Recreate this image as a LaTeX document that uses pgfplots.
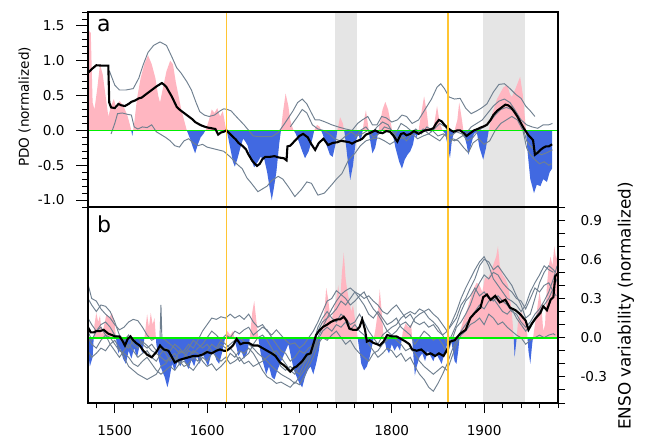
\documentclass[border=0pt]{standalone}
\usepackage{pgfplots}
\usepackage{pgfplotstable}
\pgfplotsset{compat=1.18}
\usepackage{fontspec}
\setmainfont{DejaVu Sans}
\definecolor{pinkf}{HTML}{FFB6C1}
\definecolor{bluef}{HTML}{4169E1}
\definecolor{grayl}{HTML}{708090}
\definecolor{bandc}{HTML}{E5E5E5}
\definecolor{orangel}{HTML}{FFC533}
\definecolor{greenl}{HTML}{00F000}
\pgfplotsset{
  common/.style={scale only axis, width=470bp, xmin=1471, xmax=1980,
    tick align=outside, axis line style={line width=1.2bp},
    tick style={line width=0.9bp, black},
    ticklabel style={font=\fontsize{13.6bp}{16bp}\selectfont}},
  bare/.style={scale only axis, width=470bp, xmin=1471, xmax=1980, hide axis, clip=true},
  gl/.style={grayl, line width=0.95bp},
  bl/.style={black, line width=2.1bp},
  bandone/.style={bandc, line width=21.7bp},
  bandtwo/.style={bandc, line width=41.55bp},
  ol/.style={orangel, line width=1.9bp},
  grl/.style={greenl, line width=1.7bp},
}
\pgfplotstableread{
x y
1471 0
1471 1.45
1474 1.40
1476 0.40
1478 0.30
1481 0.60
1484 0.95
1487 0.80
1490 0.50
1493 0.20
1496 0.35
1499 0.45
1502 0.30
1505 0.42
1508 0.38
1511 0.30
1514 0.20
1517 0.05
1519 -0.08
1521 0.10
1524 0.45
1528 0.75
1532 0.95
1536 1.08
1540 0.95
1544 0.75
1547 0.50
1549 0.40
1552 0.60
1556 0.85
1560 1.00
1563 0.95
1566 0.70
1569 0.50
1572 0.30
1575 0.15
1578 0.00
1581 -0.10
1584 -0.22
1587 -0.33
1590 -0.20
1593 -0.10
1596 -0.05
1599 0.02
1602 0.15
1605 0.30
1608 0.25
1611 0.32
1614 0.20
1617 0.28
1620 0.05
1622 -0.05
1625 -0.25
1628 -0.45
1630 -0.52
1633 -0.40
1636 -0.25
1639 -0.12
1641 -0.15
1644 -0.22
1647 -0.40
1651 -0.53
1655 -0.45
1658 -0.38
1662 -0.42
1665 -0.60
1668 -0.85
1670 -1.00
1672 -0.85
1675 -0.60
1678 -0.20
1680 0.00
1682 0.25
1685 0.53
1688 0.35
1690 0.15
1693 0.02
1696 -0.05
1699 -0.15
1703 -0.30
1706 -0.40
1710 -0.30
1714 -0.12
1716 0.00
1719 0.08
1722 0.05
1725 -0.05
1729 -0.20
1733 -0.35
1736 -0.38
1739 -0.20
1741 0.00
1744 0.19
1747 0.10
1749 -0.05
1752 -0.40
1755 -0.71
1758 -0.50
1761 -0.15
1764 -0.05
1766 -0.16
1768 -0.05
1770 0.15
1772 0.29
1774 0.10
1776 -0.10
1779 -0.33
1782 -0.25
1785 -0.05
1787 0.10
1790 0.30
1793 0.41
1796 0.30
1799 0.10
1801 -0.05
1804 -0.25
1808 -0.45
1811 -0.55
1814 -0.42
1817 -0.35
1820 -0.30
1823 -0.20
1825 -0.05
1827 -0.10
1829 0.00
1832 0.25
1835 0.49
1838 0.25
1840 0.02
1843 -0.03
1846 0.10
1849 0.35
1852 0.10
1855 0.00
1858 -0.05
1861 -0.25
1863 -0.40
1865 -0.15
1868 0.00
1871 0.15
1873 0.40
1876 0.15
1878 -0.05
1881 -0.20
1883 -0.35
1886 -0.20
1889 -0.05
1892 -0.02
1895 -0.25
1899 -0.42
1902 -0.25
1905 0.00
1909 0.25
1914 0.45
1918 0.55
1921 0.62
1925 0.65
1928 0.52
1930 0.48
1934 0.60
1939 0.77
1942 0.50
1945 0.05
1947 -0.30
1950 -0.70
1954 -0.90
1957 -0.78
1961 -0.80
1964 -0.70
1968 -0.74
1971 -0.60
1973.5 -0.55
1973.5 0
}\fillA
\pgfplotstableread{
x y
1471 0
1471 -0.10
1473 -0.22
1476 -0.15
1478 0.10
1480 0.19
1482 0.12
1484 0.17
1486 0.02
1488 0.08
1491 0.18
1494 0.15
1497 0.19
1500 0.10
1502 -0.05
1504 -0.12
1506 -0.08
1509 -0.16
1512 -0.20
1515 -0.10
1518 -0.16
1521 -0.08
1524 -0.15
1527 -0.06
1530 -0.12
1533 0.05
1535 0.18
1537 0.08
1539 0.19
1541 0.10
1543 0.15
1545 -0.05
1548 -0.18
1551 -0.25
1554 -0.30
1557 -0.38
1559 -0.32
1562 -0.20
1565 -0.25
1568 -0.18
1571 -0.22
1574 -0.15
1577 -0.20
1580 -0.24
1583 -0.17
1586 -0.22
1589 -0.14
1592 -0.20
1595 -0.12
1598 -0.17
1601 -0.22
1604 -0.14
1607 -0.10
1610 -0.17
1613 -0.20
1616 -0.12
1619 -0.02
1622 0.05
1625 0.02
1628 0.05
1631 -0.05
1634 -0.14
1637 -0.10
1640 -0.16
1643 -0.12
1646 -0.02
1649 0.20
1651 0.28
1653 0.15
1655 0.02
1658 -0.12
1661 -0.20
1664 -0.28
1667 -0.22
1670 -0.30
1673 -0.32
1676 -0.25
1679 -0.20
1682 -0.15
1685 -0.10
1688 -0.05
1691 -0.15
1694 -0.25
1697 -0.30
1700 -0.35
1703 -0.38
1706 -0.30
1709 -0.25
1712 -0.22
1715 -0.28
1718 -0.20
1721 -0.10
1724 0.05
1727 0.20
1729 0.38
1731 0.30
1734 0.12
1737 0.20
1740 0.30
1742 0.40
1744 0.28
1746 0.50
1748 0.65
1750 0.45
1752 0.35
1754 0.28
1756 0.20
1758 0.25
1760 0.15
1762 0.05
1764 -0.05
1767 -0.20
1770 -0.25
1773 -0.22
1776 -0.15
1779 -0.05
1782 0.05
1785 0.20
1787 0.37
1789 0.20
1791 0.02
1794 -0.08
1797 -0.12
1800 -0.05
1803 -0.10
1806 -0.06
1809 -0.10
1812 0.05
1815 0.11
1818 0.08
1821 0.10
1823 -0.10
1825 -0.29
1827 -0.22
1830 -0.15
1833 -0.12
1836 -0.18
1839 -0.10
1842 -0.14
1845 -0.18
1848 -0.12
1851 -0.16
1854 -0.20
1857 -0.12
1860 -0.05
1862 0.02
1865 -0.05
1868 -0.18
1870 -0.20
1872 -0.10
1874 0.05
1877 0.12
1880 0.18
1883 0.25
1886 0.32
1889 0.38
1892 0.42
1895 0.40
1898 0.35
1901 0.46
1904 0.45
1907 0.50
1910 0.56
1913 0.62
1915 0.70
1917 0.55
1920 0.48
1923 0.45
1926 0.40
1928 0.30
1930 0.20
1932 0.00
1933 -0.15
1935 -0.02
1937 0.15
1940 0.20
1943 0.15
1946 0.10
1948 -0.10
1950 -0.20
1952 -0.05
1954 0.05
1957 0.20
1960 0.35
1962 0.25
1964 0.05
1966 0.10
1968 0.40
1970 0.55
1972 0.62
1974 0.55
1976 0.70
1978 0.60
1979.5 0.65
1979.5 0
}\fillB
\begin{document}
\begin{tikzpicture}
\path[use as bounding box] (0,0) rectangle (645bp,439bp);
% ================= panel a =================
\begin{axis}[bare, at={(88bp,232bp)}, anchor=south west, height=195bp, ymin=-1.1, ymax=1.7]
\addplot[bandone] coordinates {(1750.25,-1.1) (1750.25,1.7)};
\addplot[bandtwo] coordinates {(1921.5,-1.1) (1921.5,1.7)};
\end{axis}
\begin{axis}[bare, at={(88bp,308.607bp)}, anchor=south west, height=118.393bp, ymin=0, ymax=1.7]
\addplot[fill=pinkf, draw=none] table[x=x,y=y] {\fillA} \closedcycle;
\end{axis}
\begin{axis}[bare, at={(88bp,232bp)}, anchor=south west, height=76.607bp, ymin=-1.1, ymax=0]
\addplot[fill=bluef, draw=none] table[x=x,y=y] {\fillA} \closedcycle;
\end{axis}
\begin{axis}[common, at={(88bp,232bp)}, anchor=south west, height=195bp,
  ymin=-1.1, ymax=1.7, xtick=\empty, axis on top,
  ytick={-1,-0.5,0,0.5,1,1.5}, yticklabels={-1.0,-0.5,0.0,0.5,1.0,1.5},
  minor ytick={-1.1,-1.0,...,1.7}, ytick pos=left,
  yticklabel style={xshift=-8bp},
  major tick length=12bp, minor tick length=6bp]
\addplot[gl] table {
1494 0.86
1500 0.65
1505 0.58
1512 0.58
1520 0.60
1526 0.75
1531 0.95
1536 1.12
1542 1.22
1549 1.27
1556 1.22
1562 1.05
1567 0.90
1572 0.82
1578 0.70
1583 0.58
1588 0.40
1592 0.27
1597 0.22
1602 0.20
1608 0.22
1614 0.28
1618 0.31
1622 0.30
1626 0.28
1630 0.22
1635 0.15
1640 0.08
1645 0.00
1650 -0.08
1656 -0.09
1662 -0.09
1670 -0.09
1677 -0.03
1683 0.08
1688 0.18
1693 0.28
1698 0.40
1703 0.45
1708 0.38
1713 0.25
1717 0.15
1722 0.15
1728 0.12
1735 0.08
1742 0.05
1750 0.02
1757 0.00
1763 0.10
1768 0.15
1774 0.20
1779 0.08
1784 0.08
1789 0.20
1794 0.18
1800 0.12
1806 0.15
1811 0.22
1816 0.20
1822 0.10
1829 0.15
1836 0.30
1843 0.45
1849 0.62
1853 0.67
1857 0.60
1862 0.48
1868 0.45
1874 0.46
1880 0.32
1886 0.24
1892 0.28
1897 0.32
1903 0.38
1910 0.55
1916 0.66
1922 0.67
1928 0.60
1934 0.52
1940 0.46
1945 0.35
1950 0.28
1955 0.20
};
\addplot[gl] table {
1496 -0.05
1500 0.10
1503 0.24
1508 0.25
1514 0.23
1518 0.22
1521 0.05
1525 0.02
1530 0.05
1535 0.04
1540 0.08
1545 -0.02
1550 -0.06
1555 -0.10
1560 -0.15
1565 -0.22
1570 -0.24
1575 -0.15
1580 -0.12
1585 -0.18
1590 -0.22
1595 -0.20
1600 -0.24
1606 -0.26
1612 -0.28
1618 -0.30
1625 -0.38
1632 -0.48
1638 -0.55
1643 -0.68
1648 -0.76
1655 -0.88
1660 -0.84
1665 -0.80
1670 -0.72
1677 -0.66
1682 -0.70
1688 -0.81
1695 -0.95
1702 -0.85
1708 -0.74
1713 -0.76
1720 -0.93
1727 -0.90
1735 -0.78
1740 -0.70
1746 -0.62
1753 -0.43
1760 -0.33
1766 -0.22
1772 -0.15
1779 -0.12
1786 -0.11
1792 -0.15
1798 -0.20
1804 -0.15
1810 -0.08
1816 -0.15
1822 -0.05
1828 -0.12
1834 -0.08
1840 -0.05
1846 -0.10
1852 -0.15
1858 -0.05
1862 -0.20
1866 -0.12
1872 -0.15
1878 -0.25
1883 -0.32
1888 -0.18
1894 -0.12
1900 -0.20
1906 -0.15
1912 0.00
1918 0.10
1924 0.15
1930 0.20
1936 0.15
1942 0.00
1946 -0.25
1950 -0.35
1955 -0.42
1960 -0.48
1965 -0.45
1970 -0.50
1973 -0.48
};
\addplot[gl] table {
1690 0.05
1697 0.18
1703 0.30
1708 0.25
1714 0.08
1720 0.02
1726 0.00
1732 -0.05
1738 -0.12
1744 -0.15
1750 -0.08
1756 -0.02
1762 -0.08
1768 -0.05
1774 0.00
1780 -0.10
1786 -0.05
1792 0.05
1798 0.02
1804 -0.05
1810 0.10
1816 0.05
1822 -0.02
1828 -0.05
1834 0.02
1840 -0.05
1846 0.02
1852 0.10
1858 0.05
1864 -0.08
1870 -0.02
1876 -0.05
1882 -0.15
1888 -0.10
1894 0.00
1900 0.05
1906 0.12
1912 0.22
1918 0.30
1924 0.33
1930 0.30
1936 0.22
1942 0.05
1946 -0.15
1950 -0.22
1956 -0.30
1962 -0.35
1968 -0.32
1974 -0.28
};
\addplot[gl] table {
1760 -0.10
1766 0.00
1772 0.05
1778 -0.05
1784 0.05
1790 0.12
1796 0.08
1802 -0.05
1808 -0.12
1814 -0.10
1820 -0.05
1826 0.02
1832 -0.05
1838 0.05
1844 0.00
1850 -0.08
1856 -0.05
1862 -0.12
1868 -0.15
1874 -0.10
1880 -0.05
1886 0.05
1892 0.10
1898 0.15
1904 0.25
1910 0.35
1916 0.42
1922 0.45
1928 0.40
1934 0.28
1940 0.15
1946 0.08
1952 0.05
1958 0.03
1964 0.08
1970 0.08
1974 0.10
};
\addplot[grl] coordinates {(1471,0) (1980,0)};
\addplot[bl] table {
1470.6 0.82
1475 0.88
1480 0.935
1486 0.93
1493 0.93
1494 0.40
1496 0.33
1500 0.32
1504 0.38
1507 0.36
1511 0.35
1515 0.38
1518 0.41
1522 0.43
1526 0.46
1529 0.47
1533 0.51
1537 0.55
1540 0.58
1545 0.63
1551 0.68
1553 0.66
1556 0.62
1559 0.55
1562 0.48
1567 0.34
1570 0.30
1573 0.27
1576 0.24
1580 0.20
1584 0.16
1587 0.12
1591 0.09
1594 0.07
1598 0.05
1601 0.04
1605 0.03
1609 0.02
1612 -0.06
1615 -0.03
1618 -0.02
1621 0.00
1624 -0.04
1627 -0.08
1631 -0.13
1634 -0.18
1639 -0.23
1642 -0.27
1645 -0.35
1649 -0.44
1654 -0.51
1657 -0.48
1660 -0.41
1663 -0.38
1668 -0.38
1673 -0.37
1678 -0.39
1683 -0.40
1686 -0.43
1687 -0.23
1690 -0.22
1695 -0.15
1700 -0.08
1704 -0.05
1709 -0.10
1713 -0.20
1717 -0.28
1721 -0.18
1726 -0.12
1731 -0.21
1736 -0.18
1741 -0.17
1745 -0.15
1750 -0.16
1754 -0.17
1757 -0.19
1761 -0.16
1765 -0.14
1768 -0.12
1772 -0.06
1776 -0.04
1779 -0.02
1782 0.00
1786 -0.03
1790 -0.04
1794 -0.01
1798 -0.02
1802 -0.08
1806 -0.16
1810 -0.05
1813 -0.04
1816 -0.07
1820 -0.05
1824 -0.01
1829 -0.05
1833 -0.02
1836 0.00
1841 0.01
1845 0.03
1848 0.10
1851 0.15
1854 0.13
1857 0.08
1860 0.04
1864 0.00
1867 -0.02
1871 0.00
1874 0.00
1878 -0.04
1881 -0.08
1885 -0.04
1889 0.00
1893 0.02
1896 0.04
1900 0.06
1903 0.08
1907 0.15
1910 0.22
1914 0.28
1918 0.32
1923 0.37
1926 0.36
1929 0.33
1932 0.28
1936 0.20
1940 0.10
1943 0.03
1948 -0.07
1953 -0.14
1955 -0.35
1958 -0.32
1961 -0.28
1964 -0.25
1967 -0.23
1970 -0.23
1973.6 -0.20
};
\addplot[ol] coordinates {(1621,-1.1) (1621,1.7)};
\addplot[ol] coordinates {(1861,-1.1) (1861,1.7)};
\end{axis}
% ================= panel b =================
\begin{axis}[bare, at={(88bp,36bp)}, anchor=south west, height=196bp, ymin=-0.5, ymax=1.0]
\addplot[bandone] coordinates {(1750.25,-0.5) (1750.25,1.0)};
\addplot[bandtwo] coordinates {(1921.5,-0.5) (1921.5,1.0)};
\end{axis}
\begin{axis}[bare, at={(88bp,101.333bp)}, anchor=south west, height=130.667bp, ymin=0, ymax=1.0]
\addplot[fill=pinkf, draw=none] table[x=x,y=y] {\fillB} \closedcycle;
\end{axis}
\begin{axis}[bare, at={(88bp,36bp)}, anchor=south west, height=65.333bp, ymin=-0.5, ymax=0]
\addplot[fill=bluef, draw=none] table[x=x,y=y] {\fillB} \closedcycle;
\end{axis}
\begin{axis}[common, at={(88bp,36bp)}, anchor=south west, height=196bp,
  ymin=-0.5, ymax=1.0, axis on top,
  xtick={1500,1600,1700,1800,1900}, xticklabels={1500,1600,1700,1800,1900},
  minor xtick={1480,1500,...,1980},
  xtick pos=bottom, ytick=\empty,
  xticklabel style={yshift=-9bp},
  major tick length=10bp, minor tick length=5bp]
\addplot[gl] table {
1471 0.41
1475 0.30
1480 0.28
1485 0.22
1490 0.18
1495 0.15
1500 0.10
1505 0.06
1510 0.08
1515 0.12
1520 0.14
1525 0.13
1530 0.08
1535 0.02
1540 -0.02
1545 0.00
1549 0.00
1550 0.25
1551 0.00
1555 -0.02
1560 -0.05
1565 -0.08
1570 -0.12
1575 -0.10
1580 -0.05
1585 -0.08
1590 -0.02
1595 0.05
1600 0.10
1605 0.15
1610 0.14
1615 0.16
1620 0.15
1625 0.18
1630 0.15
1635 0.17
1640 0.14
1645 0.18
1650 0.12
1655 0.08
1660 0.10
1665 0.05
1670 0.02
1675 0.06
1680 0.02
1685 -0.02
1690 -0.05
1695 -0.04
1700 -0.08
1705 -0.05
1710 0.00
1715 0.05
1720 0.12
1725 0.20
1730 0.28
1735 0.30
1740 0.36
1745 0.33
1750 0.30
1755 0.25
1760 0.28
1765 0.32
1770 0.35
1775 0.28
1780 0.22
1785 0.18
1790 0.12
1795 0.05
1800 0.02
1805 0.05
1810 0.10
1815 0.12
1820 0.08
1825 0.15
1830 0.18
1835 0.20
1840 0.22
1845 0.18
1850 0.15
1855 0.10
1860 0.05
1865 0.10
1870 0.15
1875 0.25
1880 0.30
1885 0.38
1890 0.45
1895 0.55
1900 0.60
1905 0.58
1910 0.52
1915 0.55
1920 0.50
1925 0.45
1930 0.40
1935 0.32
1940 0.25
1945 0.15
1950 0.18
1955 0.30
1960 0.42
1965 0.50
1970 0.55
1975 0.52
1977 0.50
};
\addplot[gl] table {
1471 0.30
1475 0.25
1480 0.20
1485 0.25
1490 0.24
1495 0.20
1500 0.12
1505 0.02
1510 -0.02
1515 0.02
1520 -0.05
1525 -0.08
1530 -0.03
1535 -0.06
1540 -0.10
1545 -0.12
1550 -0.15
1555 -0.18
1560 -0.15
1565 -0.12
1570 -0.18
1575 -0.22
1580 -0.20
1585 -0.15
1590 -0.18
1595 -0.12
1600 -0.10
1605 -0.05
1610 -0.08
1615 -0.02
1620 0.02
1625 0.00
1630 0.05
1635 0.03
1640 0.06
1645 0.08
1650 0.02
1655 0.05
1660 0.08
1665 0.06
1670 0.00
1675 -0.05
1680 -0.10
1685 -0.12
1690 -0.18
1695 -0.15
1700 -0.10
1705 -0.12
1710 -0.08
1715 -0.05
1720 0.05
1725 0.12
1730 0.15
1735 0.18
1740 0.22
1745 0.28
1750 0.25
1755 0.30
1760 0.35
1765 0.30
1770 0.25
1775 0.18
1780 0.15
1785 0.20
1790 0.15
1795 0.10
1800 0.12
1805 0.15
1810 0.08
1815 0.05
1820 0.02
1825 -0.05
1830 0.00
1835 0.05
1840 0.02
1845 -0.02
1850 0.00
1855 -0.05
1860 -0.12
1865 -0.02
1870 0.08
1875 0.12
1880 0.18
1885 0.25
1890 0.35
1895 0.42
1900 0.48
1905 0.45
1910 0.50
1915 0.48
1920 0.42
1925 0.38
1930 0.35
1935 0.30
1940 0.28
1945 0.22
1950 0.30
1955 0.38
1960 0.35
1965 0.40
1970 0.42
1975 0.35
1978 0.32
};
\addplot[gl] table {
1471 0.00
1475 -0.05
1480 -0.08
1485 -0.02
1490 0.02
1495 0.00
1500 -0.05
1505 -0.10
1510 -0.12
1515 -0.15
1520 -0.20
1525 -0.22
1530 -0.18
1535 -0.15
1540 -0.20
1545 -0.25
1550 -0.28
1555 -0.25
1560 -0.22
1565 -0.25
1570 -0.20
1575 -0.18
1580 -0.22
1585 -0.25
1590 -0.20
1595 -0.15
1600 -0.18
1605 -0.12
1610 -0.10
1615 -0.05
1620 -0.08
1625 -0.05
1630 -0.02
1635 0.00
1640 -0.03
1645 -0.05
1650 -0.08
1655 -0.12
1660 -0.15
1665 -0.18
1670 -0.22
1675 -0.25
1680 -0.28
1685 -0.30
1690 -0.32
1695 -0.35
1700 -0.30
1705 -0.25
1710 -0.18
1715 -0.10
1720 -0.02
1725 0.05
1730 0.08
1735 0.05
1740 0.10
1745 0.08
1750 0.12
1755 0.06
1760 0.10
1765 0.05
1770 0.02
1775 -0.05
1780 -0.10
1785 -0.15
1790 -0.12
1795 -0.08
1800 -0.10
1805 -0.15
1810 -0.12
1815 -0.18
1820 -0.15
1825 -0.22
1830 -0.28
1835 -0.32
1840 -0.38
1845 -0.41
1850 -0.35
1855 -0.28
1860 -0.20
1865 -0.10
1870 -0.02
1875 0.05
1880 0.10
1885 0.15
1890 0.20
1895 0.25
1900 0.22
1905 0.28
1910 0.30
1915 0.25
1920 0.20
1925 0.18
1930 0.22
1935 0.15
1940 0.10
1945 0.05
1950 0.10
1955 0.15
1960 0.20
1965 0.25
1970 0.30
1975 0.38
1979 0.45
};
\addplot[gl] table {
1471 -0.10
1475 -0.15
1480 -0.12
1485 -0.08
1490 -0.10
1495 -0.05
1500 -0.02
1505 -0.08
1510 -0.15
1515 -0.22
1520 -0.25
1525 -0.28
1530 -0.30
1535 -0.32
1540 -0.30
1545 -0.28
1550 -0.22
1555 -0.20
1560 -0.15
1565 -0.18
1570 -0.10
1575 -0.12
1580 -0.15
1585 -0.10
1590 -0.12
1595 -0.18
1600 -0.22
1605 -0.20
1610 -0.25
1615 -0.22
1620 -0.18
1625 -0.12
1630 -0.15
1635 -0.10
1640 -0.12
1645 -0.08
1650 -0.12
1655 -0.18
1660 -0.25
1665 -0.30
1670 -0.32
1675 -0.35
1680 -0.34
1685 -0.36
1690 -0.38
1695 -0.34
1700 -0.36
1705 -0.30
1710 -0.22
1715 -0.15
1720 -0.05
1725 0.00
1730 -0.02
1735 0.02
1740 0.05
1745 0.00
1750 -0.05
1755 -0.02
1760 -0.08
1765 -0.12
1770 -0.15
1775 -0.18
1780 -0.12
1785 -0.10
1790 -0.05
1795 -0.02
1800 0.02
1805 -0.02
1810 -0.05
1815 -0.10
1820 -0.08
1825 -0.12
1830 -0.18
1835 -0.22
1840 -0.25
1845 -0.28
1850 -0.25
1855 -0.22
1860 -0.25
1865 -0.15
1870 -0.05
1875 0.02
1880 0.05
1885 0.10
1890 0.12
1895 0.15
1900 0.10
1905 0.18
1910 0.15
1915 0.10
1920 0.12
1925 0.08
1930 0.05
1935 0.02
1940 0.00
1945 -0.05
1950 -0.02
1955 0.00
1960 0.02
1965 0.00
1970 0.02
1975 0.03
1977 0.02
};
\addplot[gl] table {
1471 0.15
1475 0.10
1480 0.05
1485 0.08
1490 0.02
1495 -0.05
1500 -0.10
1505 -0.15
1510 -0.10
1515 -0.05
1520 -0.10
1525 -0.15
1530 -0.12
1535 -0.10
1540 -0.15
1545 -0.18
1550 -0.12
1555 -0.08
1560 -0.10
1565 -0.05
1570 -0.08
1575 -0.12
1580 -0.08
1585 -0.02
1590 -0.05
1595 -0.08
1600 -0.05
1605 -0.10
1610 -0.15
1615 -0.18
1620 -0.15
1625 -0.20
1630 -0.18
1635 -0.15
1640 -0.20
1645 -0.18
1650 -0.22
1655 -0.20
1660 -0.18
1665 -0.15
1670 -0.12
1675 -0.10
1680 -0.15
1685 -0.20
1690 -0.25
1695 -0.28
1700 -0.22
1705 -0.18
1710 -0.12
1715 -0.08
1720 0.00
1725 0.08
1730 0.15
1735 0.22
1740 0.28
1745 0.33
1750 0.36
1755 0.38
1760 0.35
1765 0.33
1770 0.30
1775 0.32
1780 0.28
1785 0.25
1790 0.20
1795 0.18
1800 0.22
1805 0.25
1810 0.20
1815 0.15
1820 0.18
1825 0.12
1830 0.10
1835 0.12
1840 0.08
1845 0.10
1850 0.05
1855 0.02
1860 0.05
1865 0.12
1870 0.20
1875 0.30
1880 0.38
1885 0.45
1890 0.52
1895 0.58
1900 0.62
1905 0.55
1910 0.45
1915 0.40
1920 0.35
1925 0.30
1930 0.28
1935 0.25
1940 0.20
1945 0.25
1950 0.35
1955 0.42
1960 0.48
1965 0.55
1970 0.52
1975 0.50
};
\addplot[gl] table {
1471 0.05
1475 -0.02
1480 0.05
1485 0.10
1490 0.12
1495 0.08
1500 0.02
1505 0.00
1510 -0.05
1515 -0.08
1520 -0.02
1525 0.00
1530 -0.05
1535 -0.08
1540 -0.05
1545 -0.10
1550 -0.08
1555 -0.12
1560 -0.18
1565 -0.15
1570 -0.20
1575 -0.15
1580 -0.10
1585 -0.12
1590 -0.08
1595 -0.05
1600 0.00
1605 0.05
1610 0.02
1615 -0.02
1620 -0.05
1625 -0.08
1630 -0.12
1635 -0.18
1640 -0.15
1645 -0.12
1650 -0.05
1655 0.00
1660 0.02
1665 -0.02
1670 -0.08
1675 -0.15
1680 -0.22
1685 -0.25
1690 -0.22
1695 -0.25
1700 -0.28
1705 -0.20
1710 -0.15
1715 -0.05
1720 0.08
1725 0.15
1730 0.20
1735 0.15
1740 0.12
1745 0.18
1750 0.15
1755 0.10
1760 0.12
1765 0.18
1770 0.12
1775 0.05
1780 0.00
1785 -0.05
1790 0.02
1795 0.05
1800 0.08
1805 0.10
1810 0.15
1815 0.18
1820 0.20
1825 0.18
1830 0.22
1835 0.20
1840 0.15
1845 0.12
1850 0.08
1855 0.02
1860 -0.05
1865 0.02
1870 0.10
1875 0.20
1880 0.28
1885 0.32
1890 0.38
1895 0.32
1900 0.35
1905 0.30
1910 0.28
1915 0.32
1920 0.28
1925 0.25
1930 0.20
1935 0.18
1940 0.12
1945 0.08
1950 0.12
1955 0.18
1960 0.22
1965 0.28
1970 0.35
1975 0.45
1979 0.55
};
\addplot[grl] coordinates {(1471,0) (1980,0)};
\addplot[bl] table {
1471 0.08
1474 0.04
1477 0.04
1480 0.05
1484 0.05
1488 0.06
1493 0.03
1497 0.02
1500 0.01
1505 0.01
1508 -0.02
1511 -0.06
1514 -0.01
1517 0.01
1520 -0.02
1523 -0.04
1527 -0.06
1531 -0.10
1535 -0.13
1540 -0.15
1545 -0.11
1549 -0.06
1553 -0.09
1558 -0.10
1562 -0.15
1565 -0.19
1570 -0.17
1575 -0.16
1580 -0.15
1585 -0.14
1590 -0.14
1595 -0.13
1600 -0.11
1605 -0.12
1610 -0.10
1614 -0.09
1618 -0.10
1621 -0.10
1625 -0.08
1628 -0.06
1632 -0.01
1636 -0.05
1640 -0.04
1645 -0.04
1650 -0.06
1655 -0.06
1660 -0.08
1665 -0.10
1670 -0.12
1674 -0.14
1679 -0.19
1683 -0.21
1686 -0.23
1690 -0.26
1694 -0.23
1697 -0.22
1700 -0.20
1703 -0.18
1708 -0.13
1712 -0.12
1715 -0.05
1718 0.02
1721 0.05
1725 0.08
1730 0.10
1734 0.12
1737 0.13
1741 0.14
1744 0.14
1748 0.16
1751 0.13
1754 0.07
1758 0.06
1762 0.06
1765 0.08
1768 0.14
1771 0.06
1773 -0.03
1776 -0.02
1780 -0.04
1784 -0.05
1787 -0.06
1791 -0.03
1795 0.02
1800 0.01
1805 0.01
1810 -0.01
1815 -0.03
1819 -0.05
1822 -0.09
1827 -0.10
1832 -0.09
1838 -0.13
1842 -0.12
1847 -0.14
1851 -0.12
1856 -0.14
1860 -0.09
1863 -0.03
1868 -0.02
1874 0.03
1880 0.06
1885 0.15
1890 0.19
1896 0.23
1899 0.31
1903 0.33
1907 0.29
1912 0.32
1917 0.27
1923 0.29
1928 0.23
1934 0.21
1939 0.18
1945 0.13
1948 0.06
1952 0.11
1956 0.15
1961 0.19
1964 0.24
1968 0.21
1972 0.29
1975 0.31
1977 0.47
1979.5 0.49
};
\addplot[ol] coordinates {(1621,-0.5) (1621,1)};
\addplot[ol] coordinates {(1861,-0.5) (1861,1)};
\end{axis}
% right y axis of panel b
\begin{axis}[scale only axis, width=470bp, height=196bp, at={(88bp,36bp)}, anchor=south west,
  xmin=1471, xmax=1980, ymin=-0.5, ymax=1.0,
  axis x line=none, axis y line*=right, axis line style={line width=1.2bp},
  tick align=outside, tick style={line width=0.9bp, black},
  ytick={-0.3,0,0.3,0.6,0.9}, yticklabels={-0.3,0.0,0.3,0.6,0.9},
  minor ytick={-0.5,-0.4,...,1.0},
  major tick length=7bp, minor tick length=7bp,
  yticklabel style={xshift=12bp},
  ticklabel style={font=\fontsize{13.6bp}{16bp}\selectfont}]
\addplot[draw=none] coordinates {(1500,0) (1600,0.5)};
\end{axis}
\node[rotate=90, font=\fontsize{13.6bp}{16bp}\selectfont] at (24.5bp,332bp) {PDO (normalized)};
\node[rotate=90, font=\fontsize{16.8bp}{20bp}\selectfont] at (626bp,133bp) {ENSO variability (normalized)};
\node[anchor=base west, font=\fontsize{22bp}{24bp}\selectfont, inner sep=0pt] at (97bp,407bp) {a};
\node[anchor=base west, font=\fontsize{22bp}{24bp}\selectfont, inner sep=0pt] at (97bp,206bp) {b};
\end{tikzpicture}
\end{document}
